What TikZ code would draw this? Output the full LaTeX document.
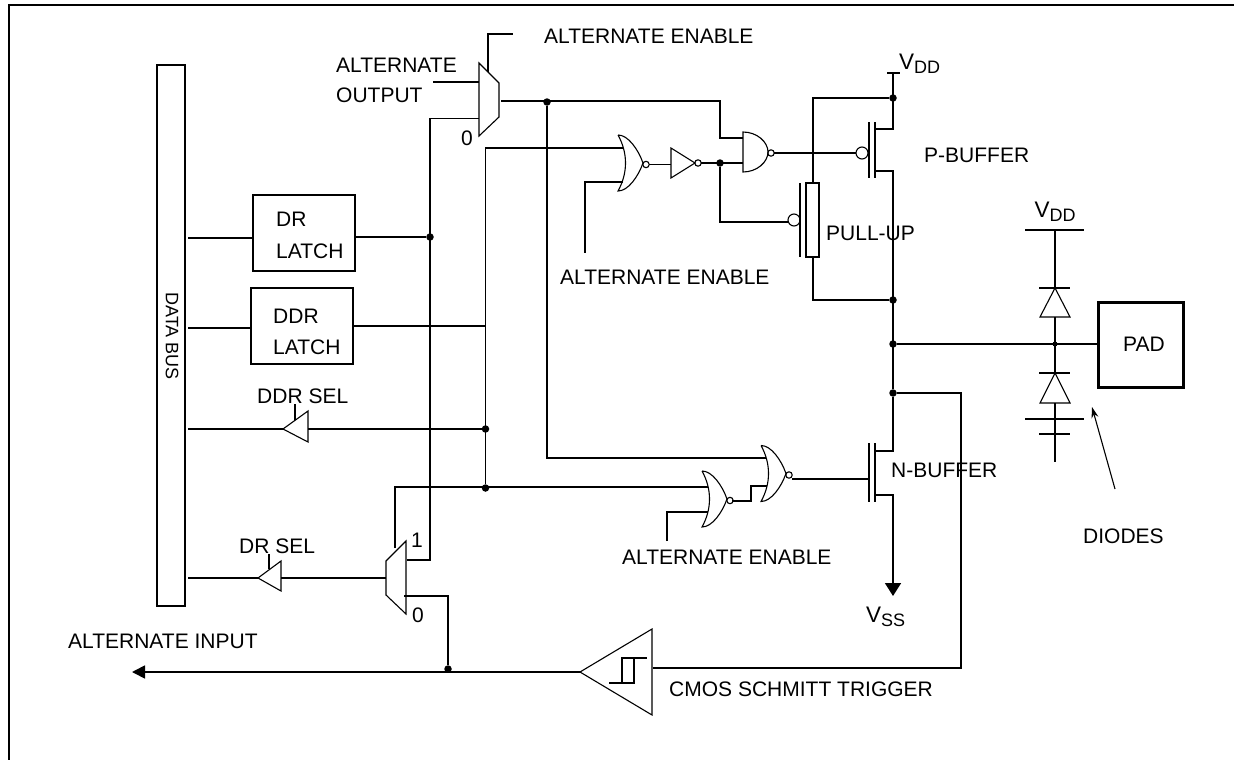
\documentclass[tikz,border=0pt]{standalone}
\usepackage{fontspec}
\setmainfont{Liberation Sans}
\usetikzlibrary{arrows.meta}

\newcommand{\VSub}[1]{\fontsize{22.5}{24}\selectfont V\raisebox{-0.3ex}{\fontsize{18}{18}\selectfont #1}}

\tikzset{
	wire/.style = {line width = 1.7},
	thinline/.style = {line width = 1.1},
	label/.style = {inner sep = 0, font = \fontsize{21}{24}\selectfont},
	dot/.style = {circle, fill = black, inner sep = 0, minimum size = 7.5},
	latchbox/.style = {draw, line width = 2, inner sep = 0, minimum width = 102, minimum height = 76},
	norgate/.pic = {
		\draw [thinline] (0,-28) .. controls (10,-28) and (20,-14) .. (25,0)
			.. controls (20,14) and (10,28) .. (0,28)
			.. controls (10,10) and (10,-10) .. (0,-28);
		\draw [thinline] (28,1.5) circle (3.2);
	},
	muxgate/.pic = {
		\draw [thinline] (0,0) -- (20,20) -- (20,54) -- (0,73) -- cycle;
	}
}

\begin{document}
\begin{tikzpicture}[x = 1pt, y = -1pt]
	\useasboundingbox (0,0) rectangle (1234,760);

	\draw [line width = 2.6] (9,760) -- (9,5) -- (1234,5);

	% boxes
	\node [draw, line width = 1.8, inner sep = 0, minimum width = 28, minimum height = 541] (databus) at (171,335.5) {};
	\node [latchbox] (drlatch) at (304,233) {};
	\node [latchbox] (ddrlatch) at (302,326) {};
	\node [draw, line width = 3, inner sep = 0, minimum width = 85, minimum height = 85] (pad) at (1140.5,344.5) {};

	% junctions
	\node [dot] (dotA) at (547,102) {};
	\node [dot] (dotB) at (720,163) {};
	\node [dot] (dotC) at (893,98) {};
	\node [dot] (dotD) at (893,300) {};
	\node [dot] (dotE) at (893,344) {};
	\node [dot] (dotF) at (893,393) {};
	\node [dot] (dotG) at (430,237) {};
	\node [dot] (dotH) at (485.5,429) {};
	\node [dot] (dotI) at (485.5,488) {};
	\node [dot] (dotJ) at (448,669) {};
	\node [dot, minimum size = 5] (dotK) at (1055,344) {};

	% gates
	\pic at (479,63) {muxgate};
	\pic at (618,163) {norgate};
	\pic at (702,499) {norgate};
	\pic at (761,473.5) {norgate};
	\pic [xscale = -1] at (406,541) {muxgate};

	\begin{scope}[thinline]
		\draw (671,148) -- (695,163) -- (671,178) -- cycle;
		\draw (698,163) circle (3.2);

		\draw (743,132) .. controls (757,132) and (768,142) .. (768,152)
			.. controls (768,162) and (757,172) .. (743,172) -- cycle;
		\draw (771,153) circle (3.2);

		\draw (862,153) circle (6);
		\draw (794,220) circle (6);

		\draw (283,429) -- (308,411) -- (308,442) -- cycle;
		\draw (258,578) -- (281,561) -- (281,591) -- cycle;

		\draw (580,672) -- (652,629) -- (652,715) -- cycle;
		\draw (609,683) -- (634,683) -- (634,658);
		\draw (622,683) -- (622,658) -- (647,658);

		\draw (1055,288) -- (1070,317) -- (1040,317) -- cycle;
		\draw (1055,373) -- (1070,403) -- (1040,403) -- cycle;
	\end{scope}

	\begin{scope}[wire]
		% transistors and supply rails
		\draw (869,122) -- (869,178);
		\draw (875,122) -- (875,178);
		\draw (869,443) -- (869,502);
		\draw (875,443) -- (875,502);
		\draw (800,183) -- (800,257);
		\draw (806,183) rectangle (819,257);
		\draw (887,73) -- (900,73);
		\draw (1025,230) -- (1084,230);
		\draw (1039,288) -- (1070,288);
		\draw (1039,373) -- (1070,373);
		\draw (1025,419) -- (1084,419);
		\draw (1039,434) -- (1070,434);

		% data bus side
		\draw (188,238) -- (drlatch.west |- 0,238);
		\draw (188,328) -- (ddrlatch.west |- 0,328);
		\draw (drlatch.east |- dotG) -- (dotG);
		\draw (ddrlatch.east |- 0,326) -- (485.5,326);
		\draw (188,429) -- (283,429);
		\draw (308,429) -- (dotH);
		\draw (188,578) -- (258,578);
		\draw (281,578) -- (386,578);
		\draw (295,404) -- (295,420);
		\draw (269,554) -- (269,569);

		% multiplexer inputs
		\draw (433,82) -- (479,82);
		\draw (488,72) -- (488,34) -- (513,34);
		\draw (479,118.5) -- (430,118.5) -- (430,560) -- (407,560);
		\draw (395,548) -- (395,487) -- (708,487);
		\draw (404,596) -- (448,596) -- (dotJ);

		% gate wiring
		\draw (501,101) -- (720,101) -- (720,138) -- (743,138);
		\draw (dotA) -- (547,458) -- (766,458);
		\draw (623,148) -- (485.5,148) -- (dotI);
		\draw (623,182) -- (585,182) -- (585,253);
		\draw (649,164.5) -- (671,164.5);
		\draw (701,163) -- (743,163);
		\draw (dotB) -- (720,222) -- (788,222);
		\draw (774,153) -- (856,153);
		\draw (667,541) -- (667,512) -- (708,512);
		\draw (732,501) -- (751,501) -- (751,486) -- (767,486);
		\draw (792,479) -- (869,479);

		% output stage
		\draw (875,129) -- (893,129) -- (893,73);
		\draw (875,171) -- (893,171) -- (dotF);
		\draw (813,183) -- (813,98) -- (dotC);
		\draw (813,257) -- (813,300) -- (dotD);
		\draw (dotF) -- (893,451) -- (875,451);
		\draw [-{Triangle[length = 13, width = 16]}] (875,495) -- (893,495) -- (893,596);
		\draw (dotE) -- (1098,344);
		\draw (1055,230) -- (1055,288);
		\draw (1055,317) -- (1055,373);
		\draw (1055,403) -- (1055,462);

		% schmitt trigger path
		\draw (dotF) -- (961,393) -- (961,668) -- (653,668);
		\draw [-{Triangle[length = 13, width = 13]}] (580,672) -- (132,672);
	\end{scope}

	\draw [thinline, -{Stealth[length = 11, width = 7]}] (1115,489) -- (1092,407);

	% texts
	\node [label, rotate = -90] (busText) at (172,336) {\fontsize{18}{20}\selectfont DATA BUS};
	\node [label, anchor = west] (drText) at (276,219) {DR};
	\node [label, anchor = west] (drLatchText) at (276,251) {LATCH};
	\node [label, anchor = west] (ddrText) at (273,316) {DDR};
	\node [label, anchor = west] (ddrLatchText) at (273,347) {LATCH};
	\node [label, anchor = west] (altEnA) at (544,36) {ALTERNATE ENABLE};
	\node [label, anchor = west] (altOutA) at (336,65) {ALTERNATE};
	\node [label, anchor = west] (altOutB) at (336,95) {OUTPUT};
	\node [label] (muxZeroA) at (467,138) {0};
	\node [label] (muxOne) at (417,540) {1};
	\node [label] (muxZeroB) at (418,615) {0};
	\node [label, anchor = west] (altEnB) at (560,277) {ALTERNATE ENABLE};
	\node [label, anchor = west] (altEnC) at (622,557) {ALTERNATE ENABLE};
	\node [label, anchor = west] (ddrSel) at (257,396) {DDR SEL};
	\node [label, anchor = west] (drSel) at (239,546) {DR SEL};
	\node [label, anchor = west] (altIn) at (68,641) {ALTERNATE INPUT};
	\node [label, anchor = west] (cmosText) at (669,689) {CMOS SCHMITT TRIGGER};
	\node [label, anchor = west] (pBuffer) at (924,155) {P-BUFFER};
	\node [label, anchor = west] (nBuffer) at (891,470) {N-BUFFER};
	\node [label, anchor = west] (pullUp) at (826,233) {PULL-UP};
	\node [label, anchor = west] (diodesText) at (1083,536) {DIODES};
	\node [label] (padText) at (1144,344) {PAD};
	\node [label, anchor = west] (vddA) at (899,64) {\VSub{DD}};
	\node [label] (vddB) at (1055,212) {\VSub{DD}};
	\node [label, anchor = west] (vssText) at (866,617) {\VSub{SS}};
\end{tikzpicture}
\end{document}
